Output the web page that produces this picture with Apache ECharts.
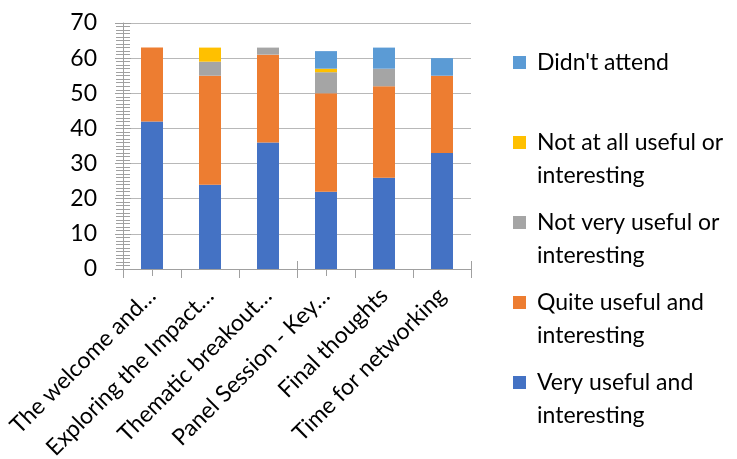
<!DOCTYPE html>
<html>
<head>
<meta charset="utf-8">
<script src="https://cdn.jsdelivr.net/npm/echarts@6/dist/echarts.min.js"></script>
<style>
  html, body { margin: 0; padding: 0; background: #fff; }
  #chart { width: 737px; height: 459px; }
</style>
</head>
<body>
<div id="chart"></div>
<script>
var categories = ['The welcome and…', 'Exploring the Impact…', 'Thematic breakout…', 'Panel Session - Key…', 'Final thoughts', 'Time for networking'];

var veryUseful   = [42, 24, 36, 22, 26, 33];
var quiteUseful  = [21, 31, 25, 28, 26, 22];
var notVery      = [0, 4, 2, 6, 5, 0];
var notAtAll     = [0, 4, 0, 1, 0, 0];
var didntAttend  = [0, 0, 0, 5, 6, 5];

var yTicks = { min: 0, max: 70, interval: 10 };

var chart = echarts.init(document.getElementById('chart'));

var font = 'Lato, "Liberation Sans", sans-serif';
var tickColor = '#a0a0a0';

// wrap legend names onto two lines, with a blank line on top so the icon sits on line one
var legendText = {
    "Didn't attend": "\nDidn't attend\n",
    'Not at all useful or interesting': '\nNot at all useful or\ninteresting',
    'Not very useful or interesting': '\nNot very useful or\ninteresting',
    'Quite useful and interesting': '\nQuite useful and\ninteresting',
    'Very useful and interesting': '\nVery useful and\ninteresting'
};

function bar(name, data, color) {
    return {
        name: name,
        type: 'bar',
        stack: 'total',
        barWidth: 22,
        data: data,
        itemStyle: { color: color }
    };
}

var option = {
    animation: false,
    textStyle: { fontFamily: font },
    grid: { left: 123, right: 266, top: 23, bottom: 190, outerBoundsMode: 'none', containLabel: false },
    legend: {
        orient: 'vertical',
        left: 508,
        top: 8,
        itemWidth: 13,
        itemHeight: 13,
        itemGap: -19,
        icon: 'rect',
        data: ["Didn't attend", 'Not at all useful or interesting', 'Not very useful or interesting',
               'Quite useful and interesting', 'Very useful and interesting'],
        formatter: function (name) { return legendText[name]; },
        textStyle: { fontSize: 23, color: '#000', lineHeight: 33, padding: [0, 0, 0, 6], fontFamily: font }
    },
    xAxis: [
        {
            type: 'category',
            data: categories,
            axisLine: { lineStyle: { color: tickColor, width: 1 } },
            axisTick: { show: true, length: 9, lineStyle: { color: tickColor } },
            axisLabel: { rotate: 45, fontSize: 23, color: '#000', margin: 23, interval: 0, fontFamily: font }
        },
        {
            type: 'category',
            data: categories,
            position: 'bottom',
            axisLine: { show: false },
            axisTick: { show: true, inside: true, length: 8, lineStyle: { color: tickColor } },
            axisLabel: { show: false }
        },
        {
            type: 'category',
            data: categories,
            position: 'bottom',
            axisLine: { show: false },
            axisTick: { show: true, alignWithLabel: true, length: 7, lineStyle: { color: tickColor } },
            axisLabel: { show: false }
        }
    ],
    yAxis: [
        {
            type: 'value',
            min: yTicks.min,
            max: yTicks.max,
            interval: yTicks.interval,
            axisLine: { show: true, lineStyle: { color: tickColor } },
            axisTick: { show: true, length: 8, lineStyle: { color: tickColor } },
            minorTick: { show: true, splitNumber: 10, length: 7, lineStyle: { color: tickColor } },
            splitLine: { show: true, lineStyle: { color: '#b8b8b8' } },
            axisLabel: { fontSize: 23, color: '#000', margin: 26, fontFamily: font }
        },
        {
            type: 'value',
            min: yTicks.min,
            max: yTicks.max,
            interval: yTicks.interval,
            position: 'left',
            axisLine: { show: false },
            axisTick: { show: true, inside: true, length: 8, lineStyle: { color: tickColor } },
            minorTick: { show: true, splitNumber: 10, length: 7, lineStyle: { color: tickColor } },
            splitLine: { show: false },
            axisLabel: { show: false }
        }
    ],
    series: [
        bar('Very useful and interesting', veryUseful, '#4472C4'),
        bar('Quite useful and interesting', quiteUseful, '#ED7D31'),
        bar('Not very useful or interesting', notVery, '#A5A5A5'),
        bar('Not at all useful or interesting', notAtAll, '#FFC000'),
        bar("Didn't attend", didntAttend, '#5B9BD5')
    ]
};

chart.setOption(option);
</script>
</body>
</html>
